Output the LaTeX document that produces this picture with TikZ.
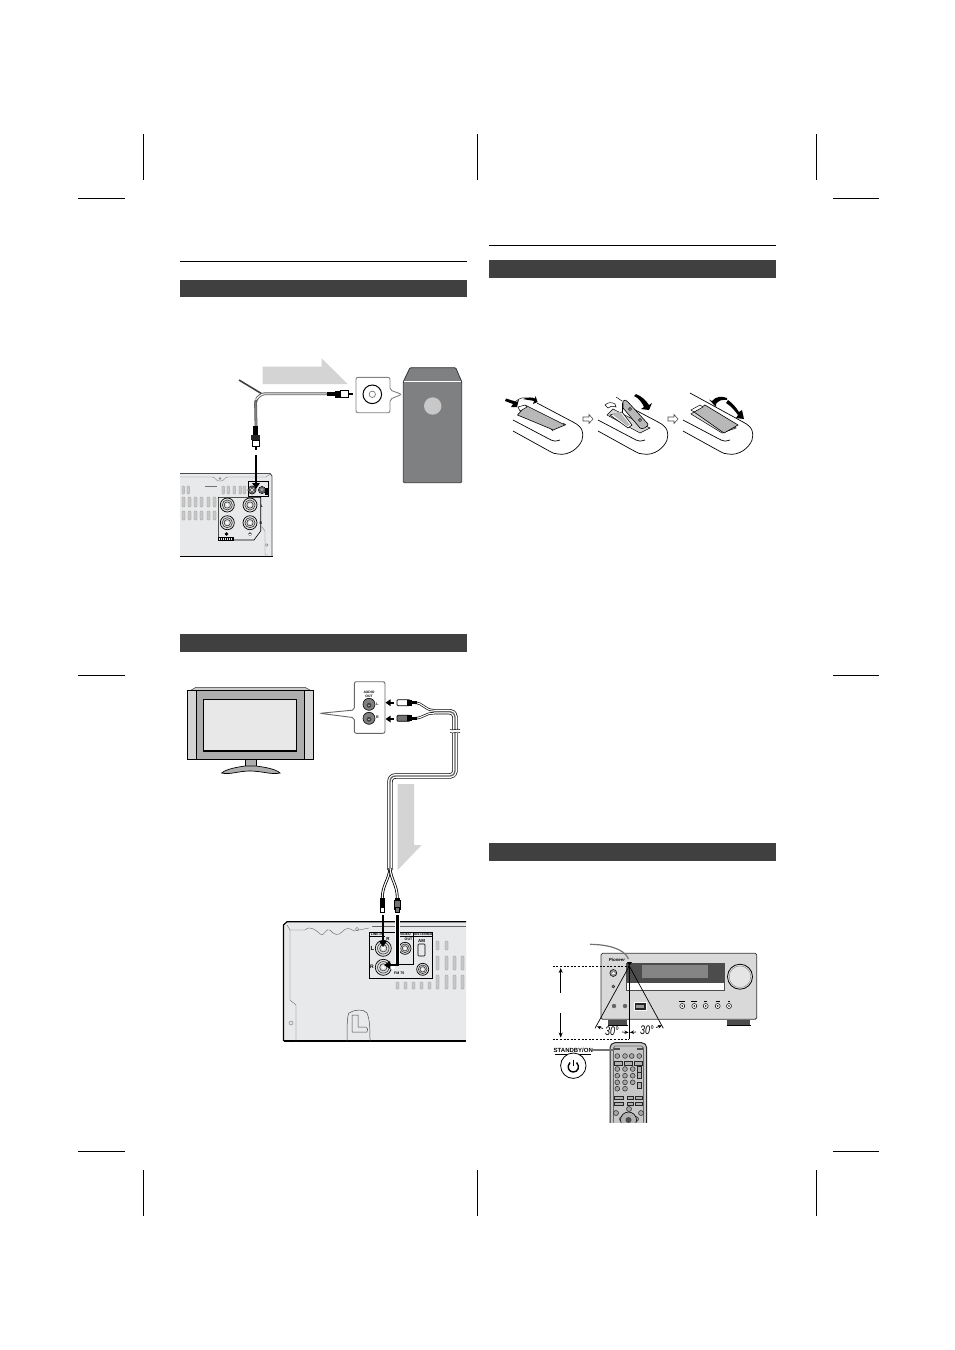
\documentclass[tikz,border=0pt]{standalone}
\usepackage{fontspec}
\setmainfont{Liberation Sans}
\usetikzlibrary{arrows.meta}
\definecolor{barc}{HTML}{404040}
\definecolor{arrowgray}{HTML}{D4D4D4}
\definecolor{panelc}{HTML}{E8E9EA}
\definecolor{subc}{HTML}{7E8082}
\definecolor{ventc}{HTML}{C8C8C8}
\tikzset{
 crop/.style={line width=0.8pt,black},
 headrule/.style={line width=0.8pt,black},
 headbar/.style={fill=barc,draw=none},
 bigarrow/.style={fill=arrowgray,draw=none},
 vent/.style={fill=ventc,draw=black!45,line width=0.25pt,rounded corners=0.8pt},
 rtip/.style={-{Triangle[length=6pt,width=7.5pt]},line width=2.7pt,black},
 tiny/.style={font=\bfseries\fontsize{3.6}{4}\selectfont,inner sep=0pt},
 rem/.style={draw=black,line width=0.7pt},
 thinarr/.style={-{Stealth[length=5pt,width=4pt]},line width=0.7pt,black},
 rbtn/.style={fill=black!35,draw=black!85,line width=0.5pt},
 rbar/.style={fill=black!30,draw=black!85,line width=0.5pt},
 cableo/.style={draw=black,line width=5.4pt,line join=round},
 cablei/.style={draw=white,line width=4pt,line join=round},
 cablec/.style={draw=black!60,line width=1.3pt,line join=round},
 angtext/.style={font=\itshape\fontsize{12.5}{12.5}\selectfont,inner sep=0pt},
}
\newcommand{\rcajack}[3]{%
 \fill[black!12,draw=black,line width=0.7pt] (#1,#2) circle (#3);
 \draw[line width=0.6pt,black!80] (#1,#2) circle ({#3*0.72});
 \draw[line width=0.6pt,black!80] (#1,#2) circle ({#3*0.45});
 \fill[white] (#1,#2) circle ({#3*0.2});
}
\newcommand{\remoteshape}[2]{% x shift, extra tail
 \draw[rem] ({#1+537-#2*1.7},{403-#2}) -- ({#1+573},422) .. controls ({#1+583},427) and ({#1+584},433) .. ({#1+582},440) .. controls ({#1+579},448) and ({#1+569},456) .. ({#1+558},454) .. controls ({#1+555},454) and ({#1+553},453) .. ({#1+551},452) -- ({#1+513},431);
 \draw[rem] ({#1+513},420) -- ({#1+551},440) .. controls ({#1+554},442) and ({#1+556},441) .. ({#1+560},440);
}
\begin{document}
\begin{tikzpicture}[x=1pt,y=-1pt]
\useasboundingbox (0,0) rectangle (954,1350);
\fill[white] (0,0) rectangle (954,1350);
% crop marks
\foreach \x in {143.5,477.5,816}{
 \draw[crop] (\x,134) -- (\x,180);
 \draw[crop] (\x,1170) -- (\x,1216);}
\foreach \y in {198,675,1151}{
 \draw[crop] (78,\y) -- (125,\y);
 \draw[crop] (833,\y) -- (879,\y);}
% header rules and bars
\draw[headrule] (180,261.5) -- (467,261.5);
\draw[headrule] (489,245) -- (776,245);
\fill[headbar] (180,280) rectangle (467,297);
\fill[headbar] (180,634) rectangle (467,652);
\fill[headbar] (489,260) rectangle (776,278);
\fill[headbar] (489,843) rectangle (776,861);

%%% SUBWOOFER FIGURE
\fill[bigarrow] (262.7,366.7) -- (321.7,366.7) -- (321.7,358.3) -- (347.7,384) -- (262.7,384) -- cycle;
\fill[subc,draw=black!80,line width=0.8pt,rounded corners=1pt] (403.3,381.7) -- (410,367.7) -- (455.7,367.7) -- (461.7,381.7) -- (461.7,482.7) -- (403.3,482.7) -- cycle;
\draw[white,line width=0.5pt] (403.6,381.7) -- (461.4,381.7);
\fill[ventc] (432.7,406) circle (8.7);
\draw[black!50,line width=0.9pt,fill=white,rounded corners=2pt] (356,377.3) -- (390,377.3) -- (390,390) -- (401.7,394.3) -- (390,399.3) -- (390,412.7) -- (356,412.7) -- cycle;
\draw[black,line width=1pt] (372.3,394.3) circle (9.3);
\draw[black!60,line width=0.6pt] (372.3,394.3) circle (3.2);
% cable
\draw[black!75,line width=1.6pt] (239,380) -- (261.5,393.6);
\draw[black!65,line width=2.8pt,line join=round,rounded corners=3pt] (326.7,393.8) -- (261.5,393.8) -- (255.5,400) -- (256,426);
\draw[white,line width=1pt,rounded corners=3pt] (326,393.8) -- (261.5,393.8) -- (255.5,400);
\draw[black!50,line width=1.8pt] (255.5,402) -- (256,426);
\fill[black] (327.3,391.7) rectangle (335,396);
\fill[black] (335,390.7) rectangle (340,398.3);
\fill[white,draw=black,line width=0.6pt] (340,390.5) rectangle (348,397);
\draw[black,line width=1.5pt] (348,393.8) -- (353.3,393.8);
\fill[black] (253.3,426) rectangle (258.3,435);
\fill[black!85] (251.3,435) rectangle (260,440);
\fill[white,draw=black,line width=0.6pt] (252.3,440) rectangle (259.3,446.7);
\draw[black,line width=1.5pt] (256,446.7) -- (256,450);
% back panel left
\fill[panelc] (180,473.5) -- (270,473.5) -- (272,476) -- (272,556) -- (180,556) -- cycle;
\draw[black!70,line width=0.9pt] (180,473.5) -- (270,473.5) -- (272,476) -- (272,556);
\draw[black,line width=1.3pt] (180,556.7) -- (272.5,556.7);
\draw[black!50,line width=0.4pt] (180,477) -- (212,477) .. controls (216,477) and (216,482) .. (220,481) .. controls (224,482) and (224,477) .. (228,477) -- (266,477) -- (270,474);
\draw[black!55,line width=0.4pt] (205,486.5) -- (217,486.5);
\draw[black!50,line width=0.4pt] (220,478.5) circle (1);
\draw[black!50,line width=0.4pt] (268,555) -- (265,555) -- (265,531) -- (262,527) -- (260.7,527);
\draw[black!50,line width=0.4pt] (266.7,545) circle (1.3);
\foreach \x in {182,187,222,227,233,239,243}{\draw[vent] (\x,486) rectangle (\x+2.5,494);}
\foreach \x in {182,188,194,200,207,213}{\draw[vent] (\x,497) rectangle (\x+3,507);
 \draw[vent] (\x,511) rectangle (\x+3,520);}
\fill[panelc,draw=black,line width=0.6pt] (218.3,497.3) -- (260.7,497.3) -- (260.7,531) -- (254,540) -- (218.3,540) -- cycle;
\fill[panelc,draw=black,line width=0.7pt] (248.3,481.7) rectangle (268.3,496.7);
\rcajack{227.3}{505}{7}\rcajack{250}{505}{7}
\rcajack{227.3}{522.7}{7}\rcajack{250}{522.7}{7}
\rcajack{252}{490}{4}\rcajack{262}{490}{3.5}
\fill[black] (264.5,488) rectangle (268,495);
\node[tiny] (lblL) at (262,506) {L};
\node[tiny] (lblR) at (261,523) {R};
\fill[black] (226.5,534) circle (1.8);
\fill[black!70] (250,534) circle (1.8);
\draw[white,line width=0.3pt] (249,534) -- (251,534);
\draw[black,line width=0.8pt,fill=panelc] (218.3,537) rectangle (233.5,540.5);
\foreach \x in {220,222,224,226,228,230,232}{\draw[black,line width=0.35pt] (\x,537) -- (\x,540.5);}
\draw[rtip] (256,455) -- (256,489);

%%% TV FIGURE
\fill[black!20,draw=black!80,line width=0.5pt] (196,687.3) -- (305,687.3) -- (311,690.7) -- (190,690.7) -- cycle;
\fill[black!32,draw=black,line width=1pt] (187.3,690.7) rectangle (313.3,759.3);
\fill[black!17,draw=black,line width=0.5pt] (187.3,690.7) rectangle (196.7,759.3);
\fill[black!17,draw=black,line width=0.5pt] (304.3,690.7) rectangle (313.3,759.3);
\draw[black,line width=1pt] (187.3,690.7) -- (313.3,690.7) (187.3,759.3) -- (313.3,759.3);
\fill[black!9,draw=black,line width=1.1pt] (203.7,699.3) rectangle (296.7,751);
\fill[black!32,draw=black,line width=0.5pt] (245,759.3) -- (256,759.3) -- (256,768) -- (245,768) -- cycle;
\fill[black!32,draw=black,line width=0.7pt] (221.7,773) .. controls (226,769) and (238,767) .. (245,766) -- (256,766) .. controls (264,767) and (276,769) .. (280,773) .. controls (272,775) and (262,771) .. (250,771) .. controls (238,771) and (230,775) .. (221.7,773) -- cycle;
\draw[black!60,line width=0.9pt,fill=white,rounded corners=2pt] (354.3,681.7) -- (385,681.7) -- (385,733.3) -- (354.3,733.3) -- (354.3,717.7) -- (320,713.3) -- (354.3,710) -- cycle;
\node[font=\bfseries\fontsize{3.4}{3.8}\selectfont,inner sep=0pt,align=center] (audioout) at (369,694) {AUDIO\\OUT};
\foreach \y in {704.3,718.3}{
 \fill[black!50,draw=black,line width=0.6pt] (369,\y) circle (6);
 \fill[black!75] (369,\y+1) circle (2.4);
 \fill[white] (369,\y+1) circle (0.7);}
\node[tiny] (tvL) at (377.5,704) {L};
\node[tiny] (tvR) at (377.5,717) {R};
% cable TV side
\def\capath{(434,711.7) -- (450,711.7) .. controls (453,711.7) and (455,714) .. (455,717) -- (455,771) .. controls (455,774) and (453,776) .. (450,776) -- (396,776) .. controls (392,776) and (390,778) .. (390,782) -- (390,870)}
\draw[cableo] \capath; \draw[cablei] \capath; \draw[cablec] \capath;
\draw[black,line width=2.4pt] (414,702.7) .. controls (424,702.7) and (424,710.2) .. (434,710.2);
\draw[white,line width=1.1pt] (414,702.7) .. controls (424,702.7) and (424,710.2) .. (434,710.2);
\draw[black,line width=2.4pt] (414,718.3) .. controls (424,718.3) and (424,713.2) .. (434,713.2);
\draw[white,line width=1.1pt] (414,718.3) .. controls (424,718.3) and (424,713.2) .. (434,713.2);
\fill[white] (450,729.5) rectangle (460,732.5);
\draw[black,line width=0.5pt] (450,729.5) .. controls (453,731) and (457,728) .. (460,729.5);
\draw[black,line width=0.5pt] (450,732.5) .. controls (453,734) and (457,731) .. (460,732.5);
\fill[white,draw=black,line width=0.7pt,rounded corners=1pt] (397,699.7) rectangle (410,705.7);
\fill[black] (407,699.7) rectangle (412,705.7);
\fill[black] (412,701) rectangle (417,704.4);
\fill[black!55,draw=black,line width=0.7pt,rounded corners=1pt] (397,715.3) rectangle (410,721.3);
\fill[black] (407,715.3) rectangle (412,721.3);
\fill[black] (412,716.6) rectangle (417,720);
\draw[black,line width=2.4pt,-{Triangle[length=5pt,width=6.5pt]}] (394,702.7) -- (385.5,702.7);
\draw[black,line width=2.4pt,-{Triangle[length=5pt,width=6.5pt]}] (394,719) -- (385.5,719);
% down arrow
\fill[bigarrow] (397.7,784) -- (414,784) -- (414,845) -- (421.7,845) -- (397.7,870) -- cycle;
% back panel lower
\fill[panelc] (466,921.7) -- (287,921.7) -- (283.5,925) -- (283.5,1041) -- (466,1041) -- cycle;
\draw[black,line width=1.2pt] (466,921.7) -- (287,921.7) -- (283.5,925) -- (283.5,1041);
\draw[black,line width=1.6pt] (283.5,1041) -- (466,1041);
\draw[black!60,line width=0.4pt] (466,926) -- (372,926);
\draw[black!60,line width=0.4pt] (290,930) -- (305,930) .. controls (310,925) and (316,930) .. (320,934) .. controls (324,938) and (326,927) .. (330,930) .. controls (334,935) and (338,936) .. (342,932) .. controls (346,927) and (350,928) .. (354,931) -- (369,928);
\draw[black!60,line width=0.4pt] (287,925) -- (290,930) -- (290,1000) -- (296,1005) -- (296,1041);
\draw[black!55,line width=0.4pt] (357,929) circle (1.7);
\draw[black!55,line width=0.4pt] (291,1023) circle (2);
\draw[black!70,line width=0.5pt] (347,1041) .. controls (347,1030) and (347,1015) .. (349,1013) .. controls (355,1009) and (364,1009) .. (367,1013) .. controls (370,1020) and (370,1030) .. (370,1041);
\draw[black!70,line width=0.5pt] (352,1015) -- (352,1032) -- (367,1032) .. controls (368,1030) and (368,1028) .. (366,1027) -- (358,1027) -- (358,1015) -- cycle;
\foreach \x in {436,445}{\draw[vent] (\x,941) rectangle (\x+3,950);}
\foreach \x in {436,445,453,461}{\draw[vent] (\x,956) rectangle (\x+3,970);
 \draw[vent] (\x,975) rectangle (\x+3,989);}
\foreach \x in {396,404,412,420,428}{\draw[vent] (\x,982) rectangle (\x+3,989);}
\fill[panelc,draw=black,line width=0.7pt] (369.3,932.7) rectangle (432.7,978.3);
\draw[black,line width=0.7pt] (398,932.7) -- (398,964) -- (413.3,964) -- (413.3,932.7);
\draw[black,line width=0.7pt] (369.3,936.4) -- (385,936.4) (398,936.4) -- (413.3,936.4) (413.3,936.4) -- (432.7,936.4);
\node[font=\bfseries\fontsize{3.4}{3.4}\selectfont,inner sep=0pt] (lnin) at (377,934.6) {LINE IN};
\node[font=\bfseries\fontsize{3.4}{3.4}\selectfont,inner sep=0pt] (dvid) at (405.5,934.6) {VIDEO};
\node[font=\bfseries\fontsize{3.8}{3.8}\selectfont,inner sep=0pt] (ant) at (423,934.6) {ANTENNA};
\rcajack{383.3}{948.3}{8}\rcajack{383.3}{967.3}{8}
\rcajack{405}{948.3}{6}\rcajack{422.7}{969.3}{6}
\draw[black,line width=0.6pt,fill=panelc,rounded corners=0.8pt] (418,944) rectangle (425,956);
\node[font=\bfseries\fontsize{4.4}{4.4}\selectfont,inner sep=0pt] (amlbl) at (421.5,940.5) {AM};
\node[tiny] (outlbl) at (408.5,939) {OUT};
\node[font=\bfseries\fontsize{6}{6}\selectfont,inner sep=0pt] (panL) at (372.5,948) {L};
\node[font=\bfseries\fontsize{5}{5}\selectfont,inner sep=0pt] (panR) at (372,966.5) {R};
\node[font=\bfseries\fontsize{4.4}{4.4}\selectfont,inner sep=0pt] (panRn) at (388,939) {R};
\node[font=\bfseries\fontsize{3.6}{3.8}\selectfont,inner sep=0pt,anchor=west] (fm) at (394,973.5) {FM 75};
% split to plugs
\draw[black,line width=2.8pt] (390,868) .. controls (389,880) and (382.3,885) .. (382.3,898);
\draw[white,line width=1.2pt] (390,868) .. controls (389,880) and (382.3,885) .. (382.3,898);
\draw[black,line width=2.8pt] (390,868) .. controls (391,880) and (397.3,885) .. (397.3,898);
\draw[white,line width=1.2pt] (390,868) .. controls (391,880) and (397.3,885) .. (397.3,898);
\fill[black] (380,898) rectangle (385,901);
\fill[black] (395,898) rectangle (400,901);
\fill[black] (379.5,900) rectangle (385,909);
\fill[white,draw=black,line width=0.5pt] (380.5,907) rectangle (384,912);
\fill[black!55,draw=black,line width=0.5pt] (394.5,900) rectangle (400.5,909);
\fill[black!55,draw=black,line width=0.5pt] (395.5,907) rectangle (399,912);
\draw[rtip,line width=2.7pt] (383,915) -- (383,947);
\draw[white,line width=4.4pt] (397.3,915) -- (397.3,962) (395,966.5) -- (391,966.5);
\draw[black,line width=2.4pt,line join=miter,-{Triangle[length=6pt,width=7.5pt]}] (397.3,915) -- (397.3,965) -- (384,965);

%%% BATTERY FIGURES
\remoteshape{0}{0}
\fill[black!28,draw=black,line width=0.6pt] (517.5,415) -- (526,405.5) -- (565,425) -- (553,430) -- (550,428.5) -- cycle;
\draw[black,line width=0.5pt,fill=white] (518,407) -- (525,405) -- (527,407) -- (520,411) -- cycle;
\draw[line width=0.5pt] (563,423) -- (566,425) (551,429) -- (553,431);
\fill[black] (506,398.5) -- (517,402) -- (519,399) -- (517,407) -- (511,407) -- (513,404) -- (505,401) -- cycle;
\fill[black] (523,399) .. controls (528,397) and (532,397) .. (535,398.5) -- (535.5,396) -- (537.5,402) -- (533,404) -- (534,401) .. controls (530,400) and (527,400) .. (523,399) -- cycle;
\draw[black,line width=0.5pt] (515,402) .. controls (520,397) and (525,397) .. (530,399);
\draw[black!70,line width=0.6pt,fill=white] (583,421) -- (583,417) -- (589,417) -- (589,414.5) -- (593,419) -- (589,423.5) -- (589,421) -- cycle;
\remoteshape{85}{0}
\fill[black!15,draw=black,line width=0.5pt] (607,415) -- (613,409) -- (650,428) -- (640,433) -- cycle;
\draw[black,line width=0.5pt,fill=white] (605,405) .. controls (608,402) and (612,402) .. (615,404) -- (616,407) .. controls (612,406) and (610,406) .. (608,408) -- cycle;
\fill[black!28,draw=black,line width=0.6pt] (623,401) .. controls (624,399.5) and (627,400) .. (628,402) -- (648,424) .. controls (648,427) and (642,430) .. (640,428) -- (623,408) -- cycle;
\draw[black,line width=0.5pt] (630,409) circle (1.6);
\draw[black,line width=0.5pt] (640,420) circle (1.6);
\draw[black,line width=0.5pt] (616,397) -- (622,401);
\draw[black,line width=0.7pt] (622,404) -- (622,414);
\draw[black,line width=0.6pt,fill=white] (610,415) -- (622,412) -- (632,425) -- (628,428) -- cycle;
\fill[black!28] (612,414) -- (620,412) -- (630,425) -- (627,426) -- cycle;
\fill[black] (636,394) .. controls (641,396) and (646,400) .. (649,405) -- (652,403) -- (649,410) -- (641,409) -- (644,407) .. controls (642,403) and (639,398) .. (634,396) -- cycle;
\draw[black!70,line width=0.6pt,fill=white] (668,421) -- (668,417) -- (674,417) -- (674,414.5) -- (678,419) -- (674,423.5) -- (674,421) -- cycle;
\remoteshape{170}{10}
\draw[black,line width=0.5pt,fill=black!15] (691,414) -- (698,409) -- (736,428) -- (722,433) -- cycle;
\fill[black!28,draw=black,line width=0.6pt] (694,412) -- (705,405) -- (738,425) -- (724,433) -- cycle;
\draw[black,line width=0.5pt,fill=white] (691,410) -- (700,405) -- (703,407) -- (694,412) -- cycle;
\fill[black] (712,401) .. controls (716,396) and (722,396) .. (727,398) -- (727,400) .. controls (722,399) and (718,401) .. (716,404) -- (716,407) -- (709,399.5) -- cycle;
\fill[black] (728,400) .. controls (732,403) and (736,407) .. (739,412) -- (742,410) -- (744,419) -- (736,418) -- (738,415) .. controls (735,411) and (731,406) .. (726,403) -- cycle;

%%% RECEIVER FIGURE
\fill[black!15,draw=black!80,line width=0.8pt,rounded corners=1.5pt] (601,953.3) rectangle (756.7,1019.3);
\fill[black!70] (608.3,1019.8) rectangle (627.3,1025);
\fill[black!70] (727.3,1019.8) rectangle (750,1025);
\draw[black,line width=0.8pt] (608,1025) -- (627.5,1025) (727,1025) -- (750.5,1025);
\fill[white,draw=black!70,line width=0.4pt] (626,963.3) rectangle (724,990);
\fill[black!70] (626,963.3) rectangle (724,983.3);
\fill[black!48] (641.7,965) rectangle (707.7,977.7);
\fill[black!10,draw=black,line width=0.8pt] (740,976.7) circle (12.5);
\draw[black!50,line width=0.4pt] (740,976.7) circle (10.8);
\fill[black!40] (613.3,973) circle (3.5);
\draw[black,line width=0.5pt] (613.3,973) circle (3.5);
\draw[white,line width=0.3pt] (612,973) -- (614.6,973) (613.3,971.7) -- (613.3,974.3);
\fill[black!40,draw=black,line width=0.4pt] (613.3,986.5) circle (1.5);
\fill[black!60] (614,1006) circle (2.2);
\fill[black!60] (625,1006) circle (2.2);
\fill[black!85,draw=white,line width=0.3pt] (634,1002.5) rectangle (646,1010);
\fill[black!40] (636,1004.5) rectangle (644,1008);
\foreach \x/\w in {682.3/3,694.3/3,705.7/1.5,717.7/2,729/1}{
 \fill[white,draw=black,line width=0.5pt] (\x,1006) circle (2.5);
 \fill[black] (\x,1006) circle (0.9);
 \draw[black,line width=0.5pt] ({\x-\w},1001) -- ({\x+\w},1001);}
\node[font=\bfseries\itshape\fontsize{4.4}{5}\selectfont,inner sep=0pt] (pioneer) at (617,959.5) {Pioneer};
\draw[black!55,line width=1.2pt] (590,944.3) .. controls (606,944.5) and (624,948) .. (628.5,959);
\draw[black,line width=0.9pt,dash pattern=on 2pt off 1.6pt] (552.7,966) -- (629.3,966);
\draw[black,line width=0.9pt,dash pattern=on 2pt off 1.6pt] (552.7,1039) -- (629.3,1039);
\draw[thinarr] (560.7,992.7) -- (560.7,968);
\draw[thinarr] (560.7,1013.3) -- (560.7,1037.5);
\draw[black,line width=0.7pt] (595,1028.3) -- (629.3,966) -- (663.3,1028.3);
\draw[black,line width=0.7pt] (629.3,966) -- (629.3,1038.5);
\fill[black] (629.3,966) -- (627,962) -- (632,962) -- cycle;
\node[angtext] (a1) at (612,1031.5) {\scalebox{0.72}[1]{30°}};
\node[angtext] (a2) at (647,1030) {\scalebox{0.72}[1]{30°}};
\draw[black,line width=0.7pt,-{Stealth[length=4pt,width=3.5pt]}] (603,1028.5) -- (597,1026.5);
\draw[black,line width=0.7pt,-{Stealth[length=4pt,width=3.5pt]}] (622,1032) -- (628.5,1032.5);
\draw[black,line width=0.7pt,-{Stealth[length=4pt,width=3.5pt]}] (636,1032) -- (630,1032.5);
\draw[black,line width=0.7pt,-{Stealth[length=4pt,width=3.5pt]}] (656,1027.5) -- (662,1025.5);
% standby label
\node[font=\bfseries\fontsize{6}{6}\selectfont,inner sep=0pt] (stby) at (573.3,1050.5) {STANDBY/ON};
\draw[black,line width=0.8pt] (555,1054.5) -- (591,1054.5);
\draw[black,line width=0.8pt,fill=white] (573.3,1065.7) circle (12.7);
\draw[black,line width=1.4pt] (570,1062.5) .. controls (566,1067) and (569,1072) .. (573.3,1072) .. controls (577.6,1072) and (580.6,1067) .. (576.6,1062.5);
\draw[black,line width=1.4pt] (573.3,1059.5) -- (573.3,1066);
% remote control
\begin{scope}
\clip (600,1035) rectangle (660,1122.7);
\fill[black!22,draw=black!85,line width=1pt,rounded corners=5pt] (610,1042.7) rectangle (646.7,1135);
\end{scope}
\draw[black!60,line width=0.8pt] (613.5,1122.7) -- (613.5,1048) -- (615,1046) -- (641.5,1046) -- (643.5,1048) -- (643.5,1122.7);
\draw[black!55,line width=1.3pt] (591.7,1050) -- (613,1050);
\foreach \x/\w in {617/3,640/3}{\fill[black!70] (\x-\w,1047.5) rectangle (\x+\w,1050);}
\foreach \x in {617.3,625,631.7,639.3}{\fill[rbtn] (\x,1056) circle (2.4);}
\foreach \x/\y in {614.5/622.5,624.5/632,634/642.5}{\fill[rbar] (\x,1061.5) rectangle (\y,1065);}
\foreach \y in {1069,1075.7,1082.3,1088.7}{\foreach \x in {617.3,625}{\fill[rbtn] (\x,\y) circle (2.4);}}
\foreach \y in {1069,1075.7,1082.3}{\fill[rbtn] (632.7,\y) circle (2.4);}
\foreach \y in {1069,1075.7,1085}{\fill[rbar] (637.5,\y-3) rectangle (641.5,\y+3);}
\foreach \x/\y in {614.5/623,627/633,635/642}{\fill[rbar] (\x,1096) rectangle (\y,1099);}
\foreach \x/\y in {614.5/623,627/633,635/642}{\fill[rbar] (\x,1102) rectangle (\y,1105);}
\foreach \x/\y in {616/1113,629/1109,641/1113,622/1119,636/1119}{\fill[rbtn] (\x,\y) circle (2.5);}
\begin{scope}
\clip (611,1100) rectangle (645.5,1122.7);
\draw[black,line width=0.6pt,fill=black!30] (628.5,1120) circle (8);
\fill[black!70] (628.5,1120) circle (3);
\end{scope}
\end{tikzpicture}
\end{document}
